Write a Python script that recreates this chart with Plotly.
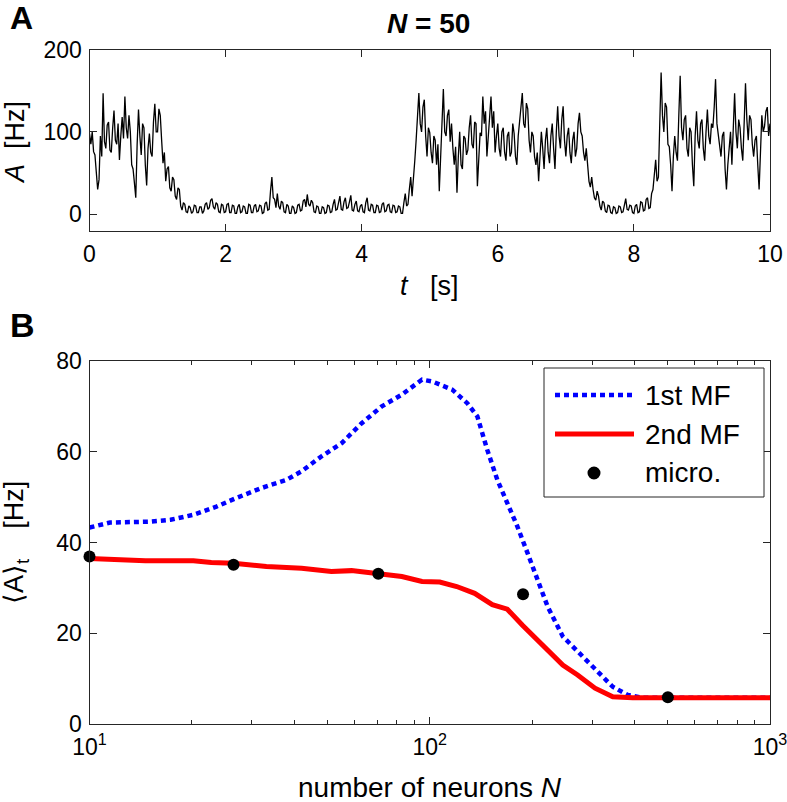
import numpy as np
import plotly.graph_objects as go

# ---------------- Panel A data: population activity trace (N = 50), sampled every 20 ms ----------------
dt = 0.02
A_trace = [
    # 0-1 s
    98, 85, 100, 76, 72, 48, 30, 42, 95, 70, 147, 88, 80, 108, 112, 78, 75, 104, 126, 90,
    85, 110, 66, 95, 118, 92, 143, 105, 92, 120, 100, 60, 55, 38, 20, 85, 127, 95, 72, 110,
    105, 60, 35, 80, 98, 75, 70, 112, 134, 100,
    # 1-2 s
    100, 128, 120, 90, 62, 75, 40, 55, 58, 32, 28, 45, 42, 22, 18, 32, 30, 10, 5, 14,
    12, 3, 2, 10, 8, 1, 3, 11, 10, 2, 2, 9, 9, 1, 4, 12, 14, 6, 8, 17,
    19, 9, 6, 14, 12, 3, 2, 12, 11, 2,
    # 2-3 s
    3, 12, 13, 2, 2, 11, 10, 1, 1, 9, 12, 2, 3, 10, 9, 1, 1, 12, 11, 2,
    2, 10, 12, 3, 4, 11, 10, 1, 2, 13, 15, 5, 6, 28, 45, 20, 18, 8, 25, 10,
    6, 16, 14, 3, 2, 12, 10, 1, 1, 10,
    # 3-4 s
    8, 1, 2, 11, 12, 4, 5, 16, 18, 9, 24, 12, 10, 17, 14, 3, 2, 10, 9, 1,
    1, 9, 8, 1, 2, 11, 10, 2, 3, 12, 18, 5, 6, 14, 22, 6, 5, 15, 20, 7,
    8, 15, 23, 5, 4, 12, 16, 4, 3, 10,
    # 4-5 s
    12, 3, 2, 14, 20, 5, 4, 12, 11, 2, 2, 11, 10, 2, 3, 12, 14, 3, 4, 11,
    12, 3, 2, 11, 10, 2, 3, 10, 9, 1, 1, 14, 25, 10, 12, 30, 45, 22, 40, 65,
    90, 120, 147, 110, 100, 130, 139, 95, 70, 105,
    # 5-6 s
    99, 75, 62, 95, 90, 60, 85, 28, 70, 110, 152, 100, 95, 120, 127, 88, 110, 80, 60, 82,
    26, 70, 100, 60, 55, 95, 92, 72, 78, 105, 120, 85, 80, 112, 110, 34, 70, 99, 95, 143,
    110, 125, 70, 90, 118, 143, 105, 125, 75, 95,
    # 6-7 s
    110, 80, 70, 100, 105, 75, 65, 95, 100, 70, 75, 110, 98, 70, 60, 95, 110, 125, 147, 110,
    105, 135, 128, 90, 75, 100, 95, 70, 60, 75, 40, 70, 100, 80, 55, 90, 105, 75, 62, 95,
    110, 80, 55, 100, 131, 95, 80, 115, 131, 90,
    # 7-8 s
    70, 95, 105, 75, 62, 90, 100, 70, 80, 110, 123, 100, 95, 75, 65, 80, 55, 40, 33, 45,
    30, 20, 17, 28, 22, 10, 5, 16, 14, 4, 2, 11, 10, 2, 1, 9, 8, 1, 2, 10,
    9, 2, 3, 12, 19, 6, 5, 11, 10, 2,
    # 8-9 s
    1, 10, 12, 2, 3, 15, 14, 4, 5, 18, 20, 7, 8, 25, 30, 48, 66, 40, 45, 110,
    172, 120, 100, 135, 130, 85, 82, 60, 28, 70, 95, 75, 65, 120, 168, 105, 90, 115, 120, 80,
    70, 105, 100, 60, 34, 95, 125, 90, 80, 110,
    # 9-10 s
    115, 80, 65, 100, 127, 95, 85, 110, 105, 130, 164, 110, 95, 80, 70, 95, 100, 55, 30, 60,
    85, 100, 60, 110, 147, 100, 80, 115, 105, 80, 65, 110, 159, 115, 90, 120, 115, 85, 70, 90,
    95, 60, 30, 75, 120, 100, 107, 125, 130, 95,
    110,
]
t_trace = np.arange(len(A_trace)) * dt

# ---------------- Panel B data: mean activity vs. N ----------------
N_mf1 = [10, 11.5, 15.1, 17.3, 20.2, 23.6, 27, 32, 37.9, 42, 48.1, 55.1, 63.1, 72.3, 82.8, 94.9,
         101.6, 116.4, 128.9, 138, 147.6, 158, 169, 181, 194, 207, 222, 246, 263, 301, 345, 382, 420, 1000]
A_mf1 = [43.3, 44.4, 44.6, 45.0, 46.1, 47.9, 49.8, 52.0, 53.8, 55.7, 59.0, 61.9, 66.3, 70.0, 72.6, 75.9,
         75.5, 73.7, 70.7, 67.8, 60.4, 53.8, 48.7, 43.5, 37.6, 31.8, 25.9, 19.3, 17.1, 12.6, 8.2, 6.4, 5.8, 5.8]

N_mf2 = [10, 11.1, 12.8, 14.6, 20.2, 22.8, 26.5, 33.1, 42, 51.4, 58.9, 72.3, 82.8, 94.9, 107, 120,
         135.5, 152.7, 169, 187, 214, 246, 272, 306, 345, 395, 1000]
A_mf2 = [36.5, 36.3, 36.3, 36.0, 36.0, 35.6, 35.4, 34.7, 34.3, 33.6, 33.8, 32.9, 32.5, 31.4, 31.3, 30.3,
         28.8, 26.3, 25.3, 21.8, 17.4, 13.0, 10.8, 7.9, 6.0, 5.8, 5.8]

N_micro = [10, 26.5, 70.6, 188, 501]
A_micro = [36.9, 35.1, 33.1, 28.6, 5.9]

xticksA = [0, 2, 4, 6, 8, 10]
yticksA = [0, 100, 200]
xticksB = [10, 100, 1000]
xticktextB = ["10<sup>1</sup>", "10<sup>2</sup>", "10<sup>3</sup>"]
xminorB = [20, 30, 40, 50, 60, 70, 80, 90, 200, 300, 400, 500, 600, 700, 800, 900]
yticksB = [0, 20, 40, 60, 80]
legend_labels = ["1st MF", "2nd MF", "micro."]

# ---------------- figure ----------------
W, H = 787, 802
FONT = "Liberation Sans, Arial, Helvetica, sans-serif"
AXC = "#262626"


def px(x):
    return x / W


def py(y):
    return 1 - y / H


fig = go.Figure()

fig.add_trace(go.Scatter(x=t_trace, y=A_trace, mode="lines",
                         line=dict(color="black", width=1.3),
                         xaxis="x", yaxis="y", showlegend=False))

fig.add_trace(go.Scatter(x=N_mf1, y=A_mf1, mode="lines", name=legend_labels[0],
                         line=dict(color="#0000FF", width=4.5, dash="5px,4px"),
                         xaxis="x2", yaxis="y2", showlegend=False))
fig.add_trace(go.Scatter(x=N_mf2, y=A_mf2, mode="lines", name=legend_labels[1],
                         line=dict(color="#FF0000", width=5),
                         xaxis="x2", yaxis="y2", showlegend=False))
fig.add_trace(go.Scatter(x=N_micro, y=A_micro, mode="markers", name=legend_labels[2],
                         marker=dict(color="black", size=12),
                         cliponaxis=False,
                         xaxis="x2", yaxis="y2", showlegend=False))

xdom = [px(89.5), px(770)]
common = dict(showline=True, linecolor=AXC, linewidth=1, mirror="ticks",
              ticks="inside", ticklen=7, tickcolor=AXC, tickwidth=1,
              showgrid=False, zeroline=False, automargin=False,
              ticklabeloverflow="allow",
              tickfont=dict(family=FONT, size=23, color="black"))

fig.update_layout(
    template="none",
    width=W, height=H,
    margin=dict(l=0, r=0, t=0, b=0, pad=0, autoexpand=False),
    paper_bgcolor="white", plot_bgcolor="white",
    font=dict(family=FONT, color="black"),
    showlegend=False,
    xaxis=dict(domain=xdom, range=[0, 10], tickmode="array", tickvals=xticksA,
               anchor="y", ticklabelstandoff=3, **common),
    yaxis=dict(domain=[py(230.7), py(49.5)], range=[-20, 200], tickmode="array",
               tickvals=yticksA, anchor="x", ticklabelstandoff=2, **common),
    xaxis2=dict(domain=xdom, type="log", range=[1, 3], tickmode="array",
                tickvals=xticksB, ticktext=xticktextB, anchor="y2",
                ticklabelstandoff=2,
                minor=dict(tickmode="array", tickvals=xminorB, ticks="inside",
                           ticklen=4, tickcolor=AXC, showgrid=False),
                **{**common, "mirror": "allticks"}),
    yaxis2=dict(domain=[py(724), py(361)], range=[0, 80], tickmode="array",
                tickvals=yticksB, anchor="x2", ticklabelstandoff=2, **common),
)

ann = []
# panel letters
ann.append(dict(text="<b>A</b>", x=px(8), y=py(18), xanchor="left", yanchor="middle",
                font=dict(size=32, family=FONT)))
ann.append(dict(text="<b>B</b>", x=px(8), y=py(325), xanchor="left", yanchor="middle",
                font=dict(size=34, family=FONT)))
# title
ann.append(dict(text="<b><i>N</i> = 50</b>", x=px(428), y=py(23), xanchor="center",
                yanchor="middle", font=dict(size=28, family=FONT)))
# axis titles panel A
ann.append(dict(text="<i>A</i>  [Hz]", x=px(15), y=py(143), xanchor="center", yanchor="middle",
                textangle=-90, font=dict(size=27, family=FONT)))
ann.append(dict(text="<i>t</i>   [s]", x=px(429), y=py(286), xanchor="center", yanchor="middle",
                font=dict(size=27, family=FONT)))
# axis titles panel B
ann.append(dict(text="number of neurons <i>N</i>", x=px(430), y=py(787), xanchor="center",
                yanchor="middle", font=dict(size=28, family=FONT)))
ann.append(dict(text="\u27e8A\u27e9<sub>t</sub>    [Hz]", x=px(16), y=py(543), xanchor="center",
                yanchor="middle", textangle=-90, font=dict(size=27, family=FONT)))

# legend (drawn as a boxed key)
rows = [395, 434, 473]
for lbl, yy in zip(legend_labels, rows):
    ann.append(dict(text=lbl, x=px(643), y=py(yy), xanchor="left", yanchor="middle",
                    font=dict(size=28, family=FONT)))
for a in ann:
    a.update(xref="paper", yref="paper", showarrow=False)
fig.update_layout(annotations=ann)

shapes = [
    dict(type="rect", xref="paper", yref="paper", x0=px(544), x1=px(764), y0=py(497), y1=py(368),
         line=dict(color=AXC, width=1), fillcolor="white", layer="above"),
    dict(type="line", xref="paper", yref="paper", x0=px(555), x1=px(634), y0=py(rows[0]), y1=py(rows[0]),
         line=dict(color="#0000FF", width=4.5, dash="5px,4px"), layer="above"),
    dict(type="line", xref="paper", yref="paper", x0=px(555), x1=px(634), y0=py(rows[1]), y1=py(rows[1]),
         line=dict(color="#FF0000", width=5), layer="above"),
    dict(type="circle", xref="paper", yref="paper", xsizemode="pixel", ysizemode="pixel",
         xanchor=px(594), yanchor=py(rows[2]), x0=-6.5, x1=6.5, y0=-6.5, y1=6.5,
         line=dict(color="black", width=0), fillcolor="black", layer="above"),
]
fig.update_layout(shapes=shapes)

# the page body's default 8 px margin would shift the figure; remove it so the
# 787x802 figure fills the window exactly
fig.write_html("out.html", config={"displayModeBar": False},
               post_script="document.body.style.margin='0px';")
